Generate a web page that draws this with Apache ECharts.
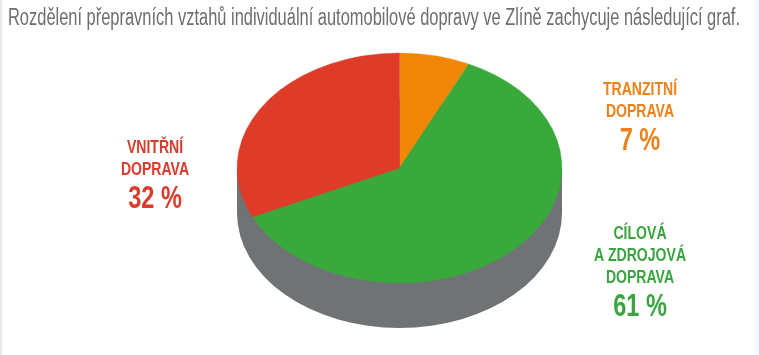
<!DOCTYPE html>
<html lang="cs">
<head>
    <meta charset="UTF-8">
    <title>Rozdělení přepravních vztahů</title>
    <script src="https://cdn.jsdelivr.net/npm/echarts@6/dist/echarts.min.js"></script>
    <style>
        html, body { margin: 0; padding: 0; background: #fff; }
        #main { width: 759px; height: 355px; }
    </style>
</head>
<body>
    <div id="main"></div>
    <script>
        var titleText = 'Rozdělení přepravních vztahů individuální automobilové dopravy ve Zlíně zachycuje následující graf.';
        var names = ['TRANZITNÍ\nDOPRAVA', 'CÍLOVÁ\nA ZDROJOVÁ\nDOPRAVA', 'VNITŘNÍ\nDOPRAVA'];
        var values = [7, 61, 32];

        var sliceColors = ['#f28606', '#39a93c', '#de3c28'];
        var textColors = ['#ee8119', '#3aa540', '#db3b2c'];
        var sideColor = '#6f7376';
        // centre of the first text line of each label
        var labelX = [640, 640, 155];
        var labelY = [90, 234, 148];

        var cx = 399.5, cy = 168, rx = 162.5, ry = 115, depth = 45;
        // no condensed font installed, so the text is squeezed horizontally
        var font = '"Liberation Sans", sans-serif';
        var squeeze = 0.76;
        var titleFont = '23px ' + font;
        var titleWidth = 732;
        var total = values.reduce(function (a, b) { return a + b; }, 0);

        var ctx = document.createElement('canvas').getContext('2d');
        ctx.font = titleFont;
        var titleScale = titleWidth / ctx.measureText(titleText).width;

        function renderSide() {
            return {
                type: 'group',
                silent: true,
                children: [
                    { type: 'circle', x: cx, y: cy + depth, scaleY: ry / rx, shape: { cx: 0, cy: 0, r: rx }, style: { fill: sideColor } },
                    { type: 'rect', shape: { x: cx - rx, y: cy, width: rx * 2, height: depth }, style: { fill: sideColor } }
                ]
            };
        }

        function renderSlice(params, api) {
            var i = params.dataIndex;
            var before = 0;
            for (var k = 0; k < i; k++) before += values[k];
            var start = -Math.PI / 2 + before / total * Math.PI * 2;
            var end = start + api.value(0) / total * Math.PI * 2;
            var lines = names[i].split('\n');
            var children = [{
                type: 'sector',
                x: cx, y: cy, scaleY: ry / rx,
                shape: { cx: 0, cy: 0, r0: 0, r: rx, startAngle: start, endAngle: end, clockwise: true },
                style: { fill: sliceColors[i], stroke: sliceColors[i], lineWidth: 0.4 }
            }];
            lines.forEach(function (line, n) {
                children.push({
                    type: 'text',
                    x: labelX[i], y: labelY[i] + n * 22, scaleX: squeeze,
                    style: { text: line, fill: textColors[i], font: 'bold 18.5px ' + font, textAlign: 'center', textVerticalAlign: 'middle' }
                });
            });
            children.push({
                type: 'text',
                x: labelX[i], y: labelY[i] + (lines.length - 1) * 22 + 29, scaleX: squeeze,
                style: { text: api.value(0) + ' %', fill: textColors[i], font: 'bold 31px ' + font, textAlign: 'center', textVerticalAlign: 'middle' }
            });
            return { type: 'group', children: children };
        }

        var chart = echarts.init(document.getElementById('main'), null, { renderer: 'canvas' });
        chart.setOption({
            animation: false,
            backgroundColor: '#fff',
            graphic: [
                { type: 'rect', shape: { x: 0, y: 0, width: 2, height: 355 }, style: { fill: '#e9e9e9' }, silent: true },
                { type: 'rect', shape: { x: 755, y: 0, width: 4, height: 355 }, style: { fill: '#f3f9fd' }, silent: true },
                {
                    type: 'text', x: 8, y: 19, scaleX: titleScale, silent: true,
                    style: { text: titleText, fill: '#6d6e71', font: titleFont, textAlign: 'left', textVerticalAlign: 'middle' }
                }
            ],
            series: [
                { type: 'custom', coordinateSystem: 'none', data: [[1]], renderItem: renderSide, z: 1 },
                { type: 'custom', coordinateSystem: 'none', data: values.map(function (v) { return [v]; }), renderItem: renderSlice, z: 2 }
            ]
        });
    </script>
</body>
</html>
